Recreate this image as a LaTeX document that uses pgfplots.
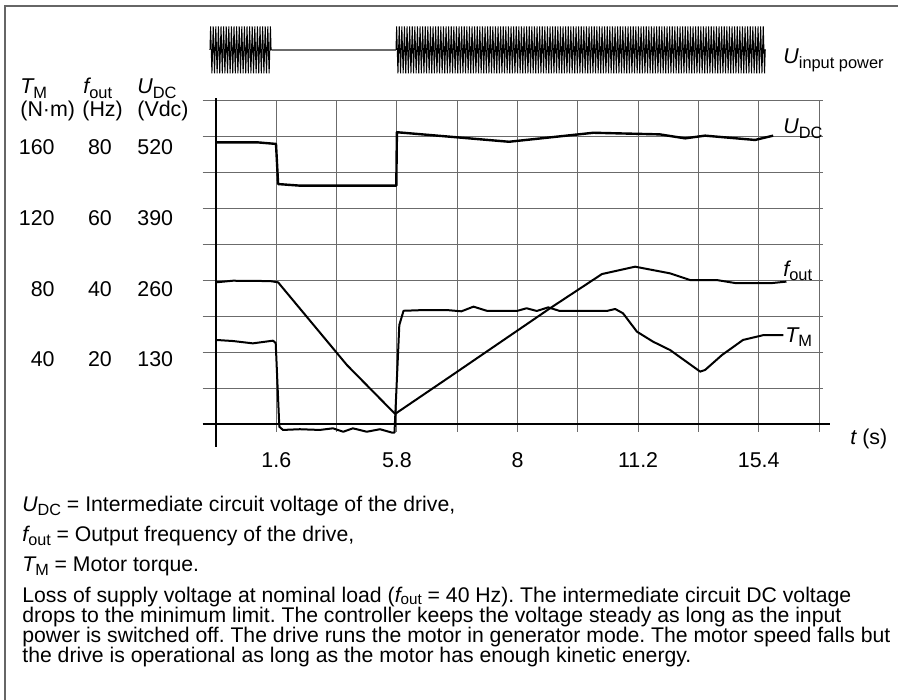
\documentclass[border=0pt]{standalone}
\usepackage{fontspec}
\setmainfont{Liberation Sans}
\usepackage{pgfplots}
\pgfplotsset{compat=1.18}
\usetikzlibrary{decorations.pathmorphing}
\definecolor{gridc}{gray}{0.42}
\newcommand\lf{\fontsize{10.7}{12.8}\selectfont}
\newcommand\cf{\fontsize{10.6}{12}\selectfont}
\newcommand\sbL[1]{\raisebox{-2.4pt}{\fontsize{8.2}{9}\selectfont #1}}
\newcommand\sbC[1]{\raisebox{-2.4pt}{\fontsize{8.1}{9}\selectfont #1}}
\newcommand\sbP[1]{\raisebox{-1.3pt}{\fontsize{7.6}{8}\selectfont #1}}
\frenchspacing
\begin{document}
\begin{tikzpicture}
\useasboundingbox (0,0) rectangle (449pt,-350pt);
\begin{axis}[
  at={(108pt,-212pt)}, anchor=south west,
  scale only axis, width=301.5pt, height=162pt,
  xmin=0, xmax=10, ymin=0, ymax=180,
  clip=false,
  axis line style={draw=none},
  major tick length=0pt,
  xtick={1,3,5,7,9},
  xticklabels={1.6,5.8,8,11.2,15.4},
  ytick=\empty,
  xticklabel style={font=\lf, anchor=base, yshift=-21.5pt, inner sep=0pt},
  /pgf/number format/assume math mode=true,
]
% grid
\pgfplotsinvokeforeach{1,...,10}{\draw[gridc, line width=0.5pt] (axis cs:#1,-4.4) -- (axis cs:#1,180);}
\pgfplotsinvokeforeach{20,40,...,180}{\draw[gridc, line width=0.5pt] (axis cs:-0.22,#1) -- (axis cs:10.07,#1);}
% axes
\draw[black, line width=1pt] (axis cs:0,181) -- (axis cs:0,-12.8);
\draw[black, line width=1pt] (axis cs:-0.22,0) -- (axis cs:10.18,0);
% input power
\addplot[black, line width=0.5pt, decorate, decoration={zigzag, segment length=1.3pt, amplitude=11.75pt}] coordinates {(-0.1,207.8) (0.93,207.8)};
\addplot[gridc, line width=0.6pt] coordinates {(0.93,207.8) (2.985,207.8)};
\addplot[black, line width=0.5pt, decorate, decoration={zigzag, segment length=1.3pt, amplitude=11.75pt}] coordinates {(2.985,207.8) (9.12,207.8)};
% U_DC
\addplot[black, line width=1.2pt, line join=round] coordinates {
(0,156.5) (0.675,156.5) (0.995,155.6) (1.03,133.3) (1.4,132.4) (2.99,132.4)
(3.0,162.1) (3.88,159.6) (4.86,156.8) (6.26,161.8) (7.36,160.9) (7.78,158.7)
(8.11,160.2) (8.94,157.8) (9.24,160.2)};
% f_out
\addplot[black, line width=1pt, line join=round] coordinates {
(0,78.7) (0.28,79.6) (0.9,79.4) (1.03,78.7) (2.17,32.8) (2.97,5.6) (3.88,26.3)
(5.54,64.3) (6.40,83.3) (6.95,87.4) (7.53,83.7) (7.86,80) (8.30,80) (8.63,78.2)
(9.19,78.2) (9.46,79.1)};
% T_M
\addplot[black, line width=1pt, line join=round] coordinates {
(0,46.7) (0.28,46.1) (0.61,44.8) (0.945,46.3) (0.99,45) (1.05,-1.5) (1.11,-3.3)
(1.39,-2.9) (1.72,-3.3) (1.94,-2.4) (2.11,-4.3) (2.27,-2.4) (2.50,-4.3) (2.72,-2.9)
(2.92,-4.8) (2.96,-4.8) (3.04,55) (3.11,62.9) (3.44,63.3) (3.83,63.3) (4.07,62.6)
(4.27,65.2) (4.49,62.9) (4.99,62.8) (5.15,64.3) (5.32,62.8) (5.51,64.8) (5.70,62.8)
(6.48,62.8) (6.62,63.9) (6.75,61.5) (6.98,51.3) (7.25,45.7) (7.53,41.1) (8.03,29.1)
(8.11,30) (8.39,38.3) (8.74,46.7) (9.08,49.4) (9.41,49.4)};
\end{axis}
\begin{scope}[x=0.5pt,y=-0.5pt, every node/.style={inner sep=0pt}]
\draw[black!60, line width=0.6pt] (5,700) -- (5,6) -- (898,6);
% left header
\node[anchor=base west] at (20,94) {\lf{\itshape T}\sbL{M}};
\node[anchor=base west] at (83,94) {\lf{\itshape f}\sbL{out}};
\node[anchor=base west] at (137,94) {\lf{\itshape U}\sbL{DC}};
\node[anchor=base west] at (20,117) {\lf(N·m)};
\node[anchor=base west] at (82,117) {\lf(Hz)};
\node[anchor=base west] at (137,117) {\lf(Vdc)};
% left numbers
\node[anchor=base east] at (55,155) {\lf 160};
\node[anchor=base] at (100,155) {\lf 80};
\node[anchor=base west] at (137,155) {\lf 520};
\node[anchor=base east] at (55,225.5) {\lf 120};
\node[anchor=base] at (100,225.5) {\lf 60};
\node[anchor=base west] at (137,225.5) {\lf 390};
\node[anchor=base east] at (55,296) {\lf 80};
\node[anchor=base] at (100,296) {\lf 40};
\node[anchor=base west] at (137,296) {\lf 260};
\node[anchor=base east] at (55,366.5) {\lf 40};
\node[anchor=base] at (100,366.5) {\lf 20};
\node[anchor=base west] at (137,366.5) {\lf 130};
% curve labels
\node[anchor=base west] at (783,64) {\lf{\itshape U}\sbL{input power}};
\node[anchor=base west] at (783,134) {\lf{\itshape U}\sbL{DC}};
\node[anchor=base west] at (783,276) {\lf{\itshape f}\sbL{out}};
\node[anchor=base west] at (785,342) {\lf{\itshape T}\sbL{M}};
\node[anchor=base west] at (850,444) {\lf{\itshape t} (s)};
% caption
\node[anchor=base west] at (22,511) {\cf{\itshape U}\sbC{DC} = Intermediate circuit voltage of the drive,};
\node[anchor=base west] at (22,541) {\cf{\itshape f}\sbC{out} = Output frequency of the drive,};
\node[anchor=base west] at (22,571) {\cf{\itshape T}\sbC{M} = Motor torque.};
\node[anchor=base west] at (22,602) {\parbox[t]{435pt}{\cf\baselineskip=10pt\lineskiplimit=-10pt\lineskip=0pt
Loss of supply voltage at nominal load ({\itshape f}\sbP{out} = 40 Hz). The intermediate circuit DC voltage\\
drops to the minimum limit. The controller keeps the voltage steady as long as the input\\
power is switched off. The drive runs the motor in generator mode. The motor speed falls but\\
the drive is operational as long as the motor has enough kinetic energy.}};
\end{scope}
\end{tikzpicture}
\end{document}
